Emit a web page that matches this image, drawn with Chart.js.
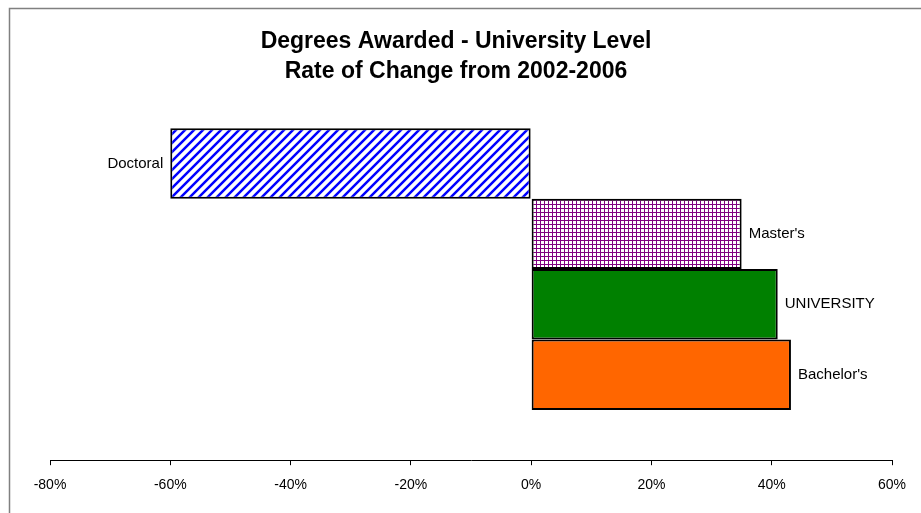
<!DOCTYPE html>
<html><head><meta charset="utf-8">
<script src="https://cdn.jsdelivr.net/npm/chart.js@4/dist/chart.umd.min.js"></script>
<style>html,body{margin:0;padding:0;background:#fff;overflow:hidden}#wrap{width:921px;height:513px;position:relative}</style>
</head><body><div id="wrap"><canvas id="c" width="921" height="513"></canvas></div>
<script>
const categories = ["Doctoral", "Master's", "UNIVERSITY", "Bachelor's"];
const changeRates = [-60, 35, 41, 43.2];
const tickValues = [-80, -60, -40, -20, 0, 20, 40, 60];
const titleLines = ["Degrees Awarded - University Level", "Rate of Change from 2002-2006"];

const FONT = '"Liberation Sans", Arial, sans-serif';

function stripePattern() {
  const n = 9;
  const c = document.createElement('canvas'); c.width = n; c.height = n;
  const g = c.getContext('2d');
  g.fillStyle = '#fff'; g.fillRect(0, 0, n, n);
  g.strokeStyle = '#0000ff'; g.lineWidth = 2.5;
  g.beginPath();
  g.moveTo(-2, n + 2); g.lineTo(n + 2, -2);
  g.moveTo(-3, 3); g.lineTo(3, -3);
  g.moveTo(n - 3, n + 3); g.lineTo(n + 3, n - 3);
  g.stroke();
  return g.createPattern(c, 'repeat');
}
function gridPattern() {
  const c = document.createElement('canvas'); c.width = 4; c.height = 4;
  const g = c.getContext('2d');
  g.fillStyle = '#fff'; g.fillRect(0, 0, 4, 4);
  g.fillStyle = '#800080';
  g.fillRect(0, 0, 4, 1); g.fillRect(0, 0, 1, 4);
  return g.createPattern(c, 'repeat');
}
const fills = [stripePattern(), gridPattern(), '#008000', '#ff6600'];

const datasets = categories.map((name, i) => ({
  label: name,
  data: [changeRates[i]],
  backgroundColor: fills[i],
  borderColor: '#000',
  borderWidth: 2,
  borderSkipped: false,
  categoryPercentage: 0.737,
  barPercentage: 1
}));

const framePlugin = {
  id: 'frame',
  beforeDraw(chart) {
    const ctx = chart.ctx;
    ctx.save();
    ctx.fillStyle = '#fff'; ctx.fillRect(0, 0, chart.width, chart.height);
    ctx.strokeStyle = '#808080'; ctx.lineWidth = 1.5;
    ctx.beginPath();
    ctx.moveTo(9.5, chart.height); ctx.lineTo(9.5, 8.5); ctx.lineTo(chart.width, 8.5);
    ctx.stroke();
    ctx.restore();
  }
};
const titlePlugin = {
  id: 'titleText',
  afterDraw(chart) {
    const ctx = chart.ctx;
    ctx.save();
    ctx.font = 'bold 23px ' + FONT;
    ctx.fillStyle = '#000';
    ctx.textAlign = 'center'; ctx.textBaseline = 'middle';
    titleLines.forEach((t, i) => ctx.fillText(t, 456, 42 + i * 30));
    ctx.restore();
  }
};
const labelPlugin = {
  id: 'barLabels',
  afterDatasetsDraw(chart) {
    const ctx = chart.ctx;
    ctx.save();
    ctx.font = '15px ' + FONT;
    ctx.fillStyle = '#000';
    ctx.textBaseline = 'middle';
    chart.data.datasets.forEach((ds, i) => {
      const bar = chart.getDatasetMeta(i).data[0];
      if (ds.data[0] < 0) { ctx.textAlign = 'right'; ctx.fillText(ds.label, bar.x - 7, bar.y); }
      else { ctx.textAlign = 'left'; ctx.fillText(ds.label, bar.x + 7, bar.y); }
    });
    ctx.restore();
  }
};

new Chart(document.getElementById('c'), {
  type: 'bar',
  data: { labels: [''], datasets },
  options: {
    indexAxis: 'y',
    responsive: false,
    animation: false,
    devicePixelRatio: 1,
    layout: { padding: { left: 50, right: 29, top: 78, bottom: 7 } },
    plugins: { legend: { display: false }, title: { display: false }, tooltip: { enabled: false } },
    scales: {
      y: { display: false },
      x: {
        type: 'linear',
        min: tickValues[0],
        max: tickValues[tickValues.length - 1],
        afterBuildTicks: s => { s.ticks = tickValues.map(v => ({ value: v })); },
        ticks: { color: '#000', font: { family: FONT, size: 14 }, padding: 12, maxRotation: 0, callback: v => v + '%' },
        grid: { drawOnChartArea: false, drawTicks: true, tickLength: 5, color: '#000', lineWidth: 1 },
        border: { display: true, color: '#000', width: 1 }
      }
    }
  },
  plugins: [framePlugin, labelPlugin, titlePlugin]
});
</script>
</body></html>
